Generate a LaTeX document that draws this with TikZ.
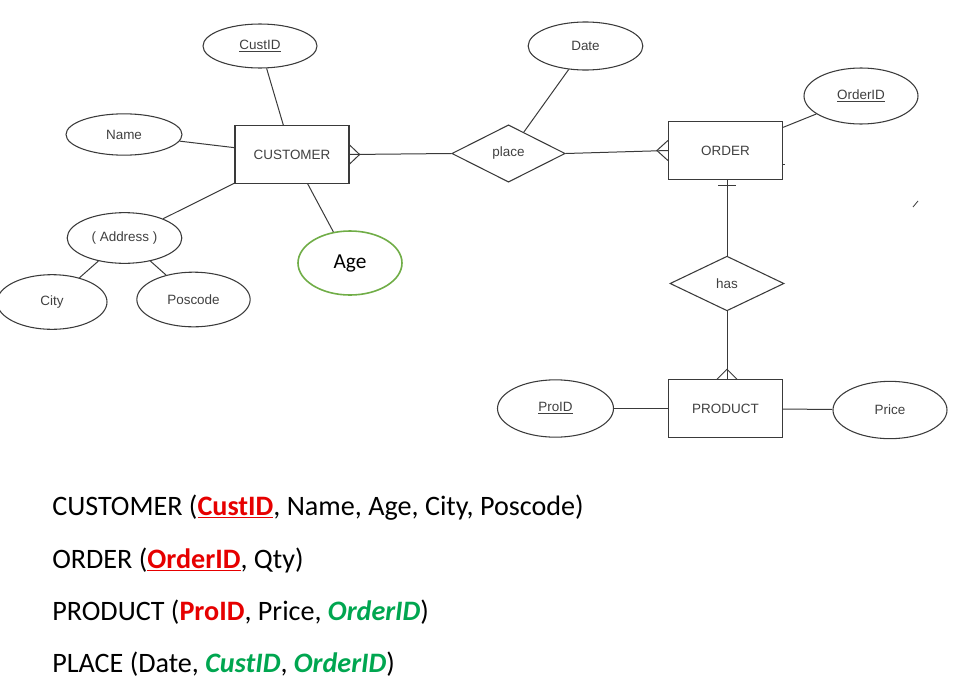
\documentclass[tikz,border=0pt]{standalone}
\usepackage{fontspec}
\setmainfont{Carlito}
\newfontfamily\arialf{Liberation Sans}
\usetikzlibrary{shapes.geometric,calc}
\definecolor{lnc}{HTML}{3A3A3A}
\definecolor{txc}{HTML}{404040}
\definecolor{keyred}{HTML}{E60000}
\definecolor{fkgreen}{HTML}{00A650}
\definecolor{agegreen}{HTML}{70AD47}
\begin{document}
\begin{tikzpicture}[x=0.75pt,y=-0.75pt,
  lbl/.style={font=\arialf\fontsize{10.1}{12}\selectfont,text=txc,inner sep=0pt},
  attr/.style={lbl,ellipse,draw=lnc,line width=0.8pt},
  ent/.style={lbl,rectangle,draw=lnc,line width=0.9pt,minimum width=85.5pt,minimum height=43pt},
  rel/.style={lbl,diamond,draw=lnc,line width=0.8pt},
  link/.style={draw=lnc,line width=0.75pt},
  schema/.style={anchor=base west,inner sep=0pt,font=\fontsize{21.1}{24}\selectfont,text=black}]
\useasboundingbox (0,0) rectangle (960,682);

% entities and relationships
\node[ent] (customer) at (292,154.5) {CUSTOMER};
\node[ent] (order) at (725.5,150.5) {ORDER};
\node[ent] (product) at (725.5,408.5) {PRODUCT};
\node[rel,minimum width=85pt,minimum height=43pt] (place) at (508.5,153.5) {place};
\node[rel,minimum width=85.5pt,minimum height=41pt] (has) at (727,283.5) {has};

% attributes
\node[attr,minimum width=85.5pt,minimum height=33pt] (custid) at (260,46) {\underline{CustID}};
\node[attr,minimum width=86pt,minimum height=36pt] (date) at (585.5,46) {Date};
\node[attr,minimum width=85.5pt,minimum height=42pt] (orderid) at (861,96) {\underline{OrderID}};
\node[attr,minimum width=87pt,minimum height=31pt] (name) at (124,134.5) {Name};
\node[attr,minimum width=86pt,minimum height=38pt] (address) at (124.5,238) {( Address )};
\node[attr,minimum width=82.5pt,minimum height=41pt] (city) at (52,302) {City};
\node[attr,minimum width=85pt,minimum height=41pt] (poscode) at (193.5,299.5) {Poscode};
\node[ellipse,draw=agegreen,line width=1.2pt,minimum width=78pt,minimum height=48pt,inner sep=0pt,font=\fontsize{16}{18}\selectfont] (age) at (350,263) {Age};
\node[attr,minimum width=87pt,minimum height=43pt] (proid) at (555.5,408.5) {\underline{ProID}};
\node[attr,minimum width=85.5pt,minimum height=43pt] (price) at (890,410) {Price};

% attribute links
\draw[link] (custid) -- (customer);
\draw[link] (name) -- (customer);
\draw[link] (address) -- (customer);
\draw[link] (address) -- (city);
\draw[link] (address) -- (poscode);
\draw[link] (customer) -- (age);
\draw[link] (date) -- (place);
\draw[link] (orderid) -- (order);
\draw[link] (proid) -- (product);
\draw[link] (price) -- (product);

% relationship links
\draw[link] (place.west) -- (customer.east);
\draw[link] (place.east) -- (order.west);
\draw[link] (has.north) -- (has.north |- order.south);
\draw[link] (has.south) -- (has.south |- product.north);

% crow's feet
\coordinate (cfA) at ($(customer.east)+(10,0)$);
\draw[link] ($(customer.east)+(0,-9.5)$) -- (cfA) -- ($(customer.east)+(0,9.5)$);
\coordinate (cfB) at ($(order.west)+(-11,0)$);
\draw[link] ($(order.west)+(0,-10)$) -- (cfB) -- ($(order.west)+(0,10)$);
\coordinate (cfC) at ($(has.south |- product.north)+(0,-10)$);
\draw[link] ($(cfC)+(-10,10)$) -- (cfC) -- ($(cfC)+(10,10)$);
% one bar
\coordinate (ob) at ($(has.north |- order.south)+(0,6)$);
\draw[link] ($(ob)+(-9,0)$) -- ($(ob)+(9,0)$);

% small stray marks
\draw[link] ($(order.east)+(0,13.5)$) -- ++(2,0);
\coordinate (sa) at (913,207);
\coordinate (sb) at (918,201);
\draw[draw=lnc,line width=0.6pt] (sa) -- (sb);

% relational schema
\node[schema] (t1) at (52,515) {CUSTOMER (\textcolor{keyred}{\underline{\textbf{CustID}}}, Name, Age, City, Poscode)};
\node[schema] (t2) at (52,568) {ORDER (\textcolor{keyred}{\underline{\textbf{OrderID}}}, Qty)};
\node[schema] (t3) at (52,620) {PRODUCT (\textcolor{keyred}{\textbf{ProID}}, Price, \textcolor{fkgreen}{\textbf{\textit{OrderID}}})};
\node[schema] (t4) at (52,672) {PLACE (Date, \textcolor{fkgreen}{\textbf{\textit{CustID}}}, \textcolor{fkgreen}{\textbf{\textit{OrderID}}})};
\end{tikzpicture}
\end{document}
